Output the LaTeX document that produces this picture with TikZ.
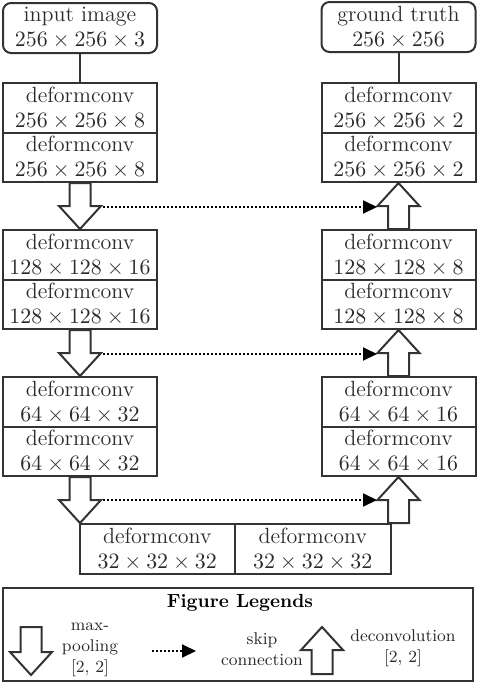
\documentclass[tikz,border=0pt]{standalone}
\usepackage{amsmath}
\usepackage{tikz}
\usetikzlibrary{calc,arrows.meta}
\definecolor{linegray}{HTML}{333333}
\definecolor{textgray}{HTML}{2B2B2B}

\begin{document}
\begin{tikzpicture}[x=0.5pt,y=-0.5pt,
	layer/.style={shape=rectangle,draw=linegray,line width=1pt,minimum width=77pt,minimum height=24.75pt,inner sep=0pt,align=center,text=textgray,font=\fontsize{11}{12.5}\selectfont},
	io/.style={layer,rounded corners=4pt,minimum height=25pt},
	pool/.style={draw=linegray,line width=1pt,to path={
		($(\tikztostart)+(-10.5,0)$) -- ($(\tikztostart |- \tikztotarget)+(-10.5,-23)$)
		-- ($(\tikztostart |- \tikztotarget)+(-21,-23)$) -- (\tikztostart |- \tikztotarget)
		-- ($(\tikztostart |- \tikztotarget)+(21,-23)$) -- ($(\tikztostart |- \tikztotarget)+(10.5,-23)$)
		-- ($(\tikztostart)+(10.5,0)$) -- cycle}},
	deconv/.style={draw=linegray,line width=1pt,to path={
		($(\tikztotarget |- \tikztostart)+(-10.5,0)$) -- ($(\tikztotarget)+(-10.5,23)$)
		-- ($(\tikztotarget)+(-21,23)$) -- (\tikztotarget)
		-- ($(\tikztotarget)+(21,23)$) -- ($(\tikztotarget)+(10.5,23)$)
		-- ($(\tikztotarget |- \tikztostart)+(10.5,0)$) -- cycle}},
	skip/.style={draw=black,line width=1pt,dash pattern=on 1pt off 1pt,-{Triangle[length=7pt,width=6.5pt]}},
	legend/.style={text=textgray,align=center,font=\fontsize{8.5}{10.5}\selectfont}]
	\useasboundingbox (0,0) rectangle (480,686);

	% contracting path
	\node[io] (in) at (80, 28) {input image\\$256\times256\times3$};
	\node[layer] (d1a) at (80, 107.75) {deformconv\\$256\times256\times8$};
	\node[layer] (d1b) at (80, 157.25) {deformconv\\$256\times256\times8$};
	\node[layer] (d2a) at (80, 254.75) {deformconv\\$128\times128\times16$};
	\node[layer] (d2b) at (80, 304.25) {deformconv\\$128\times128\times16$};
	\node[layer] (d3a) at (80, 401.75) {deformconv\\$64\times64\times32$};
	\node[layer] (d3b) at (80, 451.25) {deformconv\\$64\times64\times32$};

	% bottom
	\node[layer,minimum width=77.75pt] (c1) at (157.25, 548.75) {deformconv\\$32\times32\times32$};
	\node[layer,minimum width=77.75pt] (c2) at (312.75, 548.75) {deformconv\\$32\times32\times32$};

	% expanding path
	\node[io] (gt) at (398.5, 27) {ground truth\\$256\times256$};
	\node[layer] (u1a) at (398.5, 107.75) {deformconv\\$256\times256\times2$};
	\node[layer] (u1b) at (398.5, 157.25) {deformconv\\$256\times256\times2$};
	\node[layer] (u2a) at (398.5, 254.75) {deformconv\\$128\times128\times8$};
	\node[layer] (u2b) at (398.5, 304.25) {deformconv\\$128\times128\times8$};
	\node[layer] (u3a) at (398.5, 401.75) {deformconv\\$64\times64\times16$};
	\node[layer] (u3b) at (398.5, 451.25) {deformconv\\$64\times64\times16$};

	\path[draw=linegray,line width=1pt] (in) edge (d1a);
	\path[draw=linegray,line width=1pt] (gt) edge (u1a);

	\draw[pool] (d1b.south) to (d2a.north);
	\draw[pool] (d2b.south) to (d3a.north);
	\draw[pool] (d3b.south) to (c1.north);
	\draw[deconv] (u2a.north) to (u1b.south);
	\draw[deconv] (u3a.north) to (u2b.south);
	\draw[deconv] (c2.north east) to (u3b.south);

	% skip connections
	\coordinate (k1a) at (103, 207);
	\coordinate (k1b) at (377, 207);
	\coordinate (k2a) at (103, 354);
	\coordinate (k2b) at (377, 354);
	\coordinate (k3a) at (103, 500);
	\coordinate (k3b) at (377, 500);
	\draw[skip] (k1a) -- (k1b);
	\draw[skip] (k2a) -- (k2b);
	\draw[skip] (k3a) -- (k3b);

	% legend
	\node[draw=linegray,line width=1pt,minimum width=235pt,minimum height=46.5pt,inner sep=0pt] (leg) at (238, 634.5) {};
	\node[text=black,font=\bfseries\fontsize{9.5}{11}\selectfont] (legt) at (240, 603) {Figure Legends};
	\coordinate (lp1) at (31, 627);
	\coordinate (lp2) at (31, 675);
	\draw[pool] (lp1) to (lp2);
	\node[legend] (lpt) at (90, 650) {max-\\pooling\\{[2, 2]}};
	\coordinate (lk1) at (152, 651);
	\coordinate (lk2) at (196, 651);
	\draw[skip] (lk1) -- (lk2);
	\node[legend] (lkt) at (262, 649) {skip\\connection};
	\coordinate (ld1) at (322, 674);
	\coordinate (ld2) at (322, 627);
	\draw[deconv] (ld1) to (ld2);
	\node[legend] (ldt) at (403, 648) {deconvolution\\{[2, 2]}};
\end{tikzpicture}
\end{document}
